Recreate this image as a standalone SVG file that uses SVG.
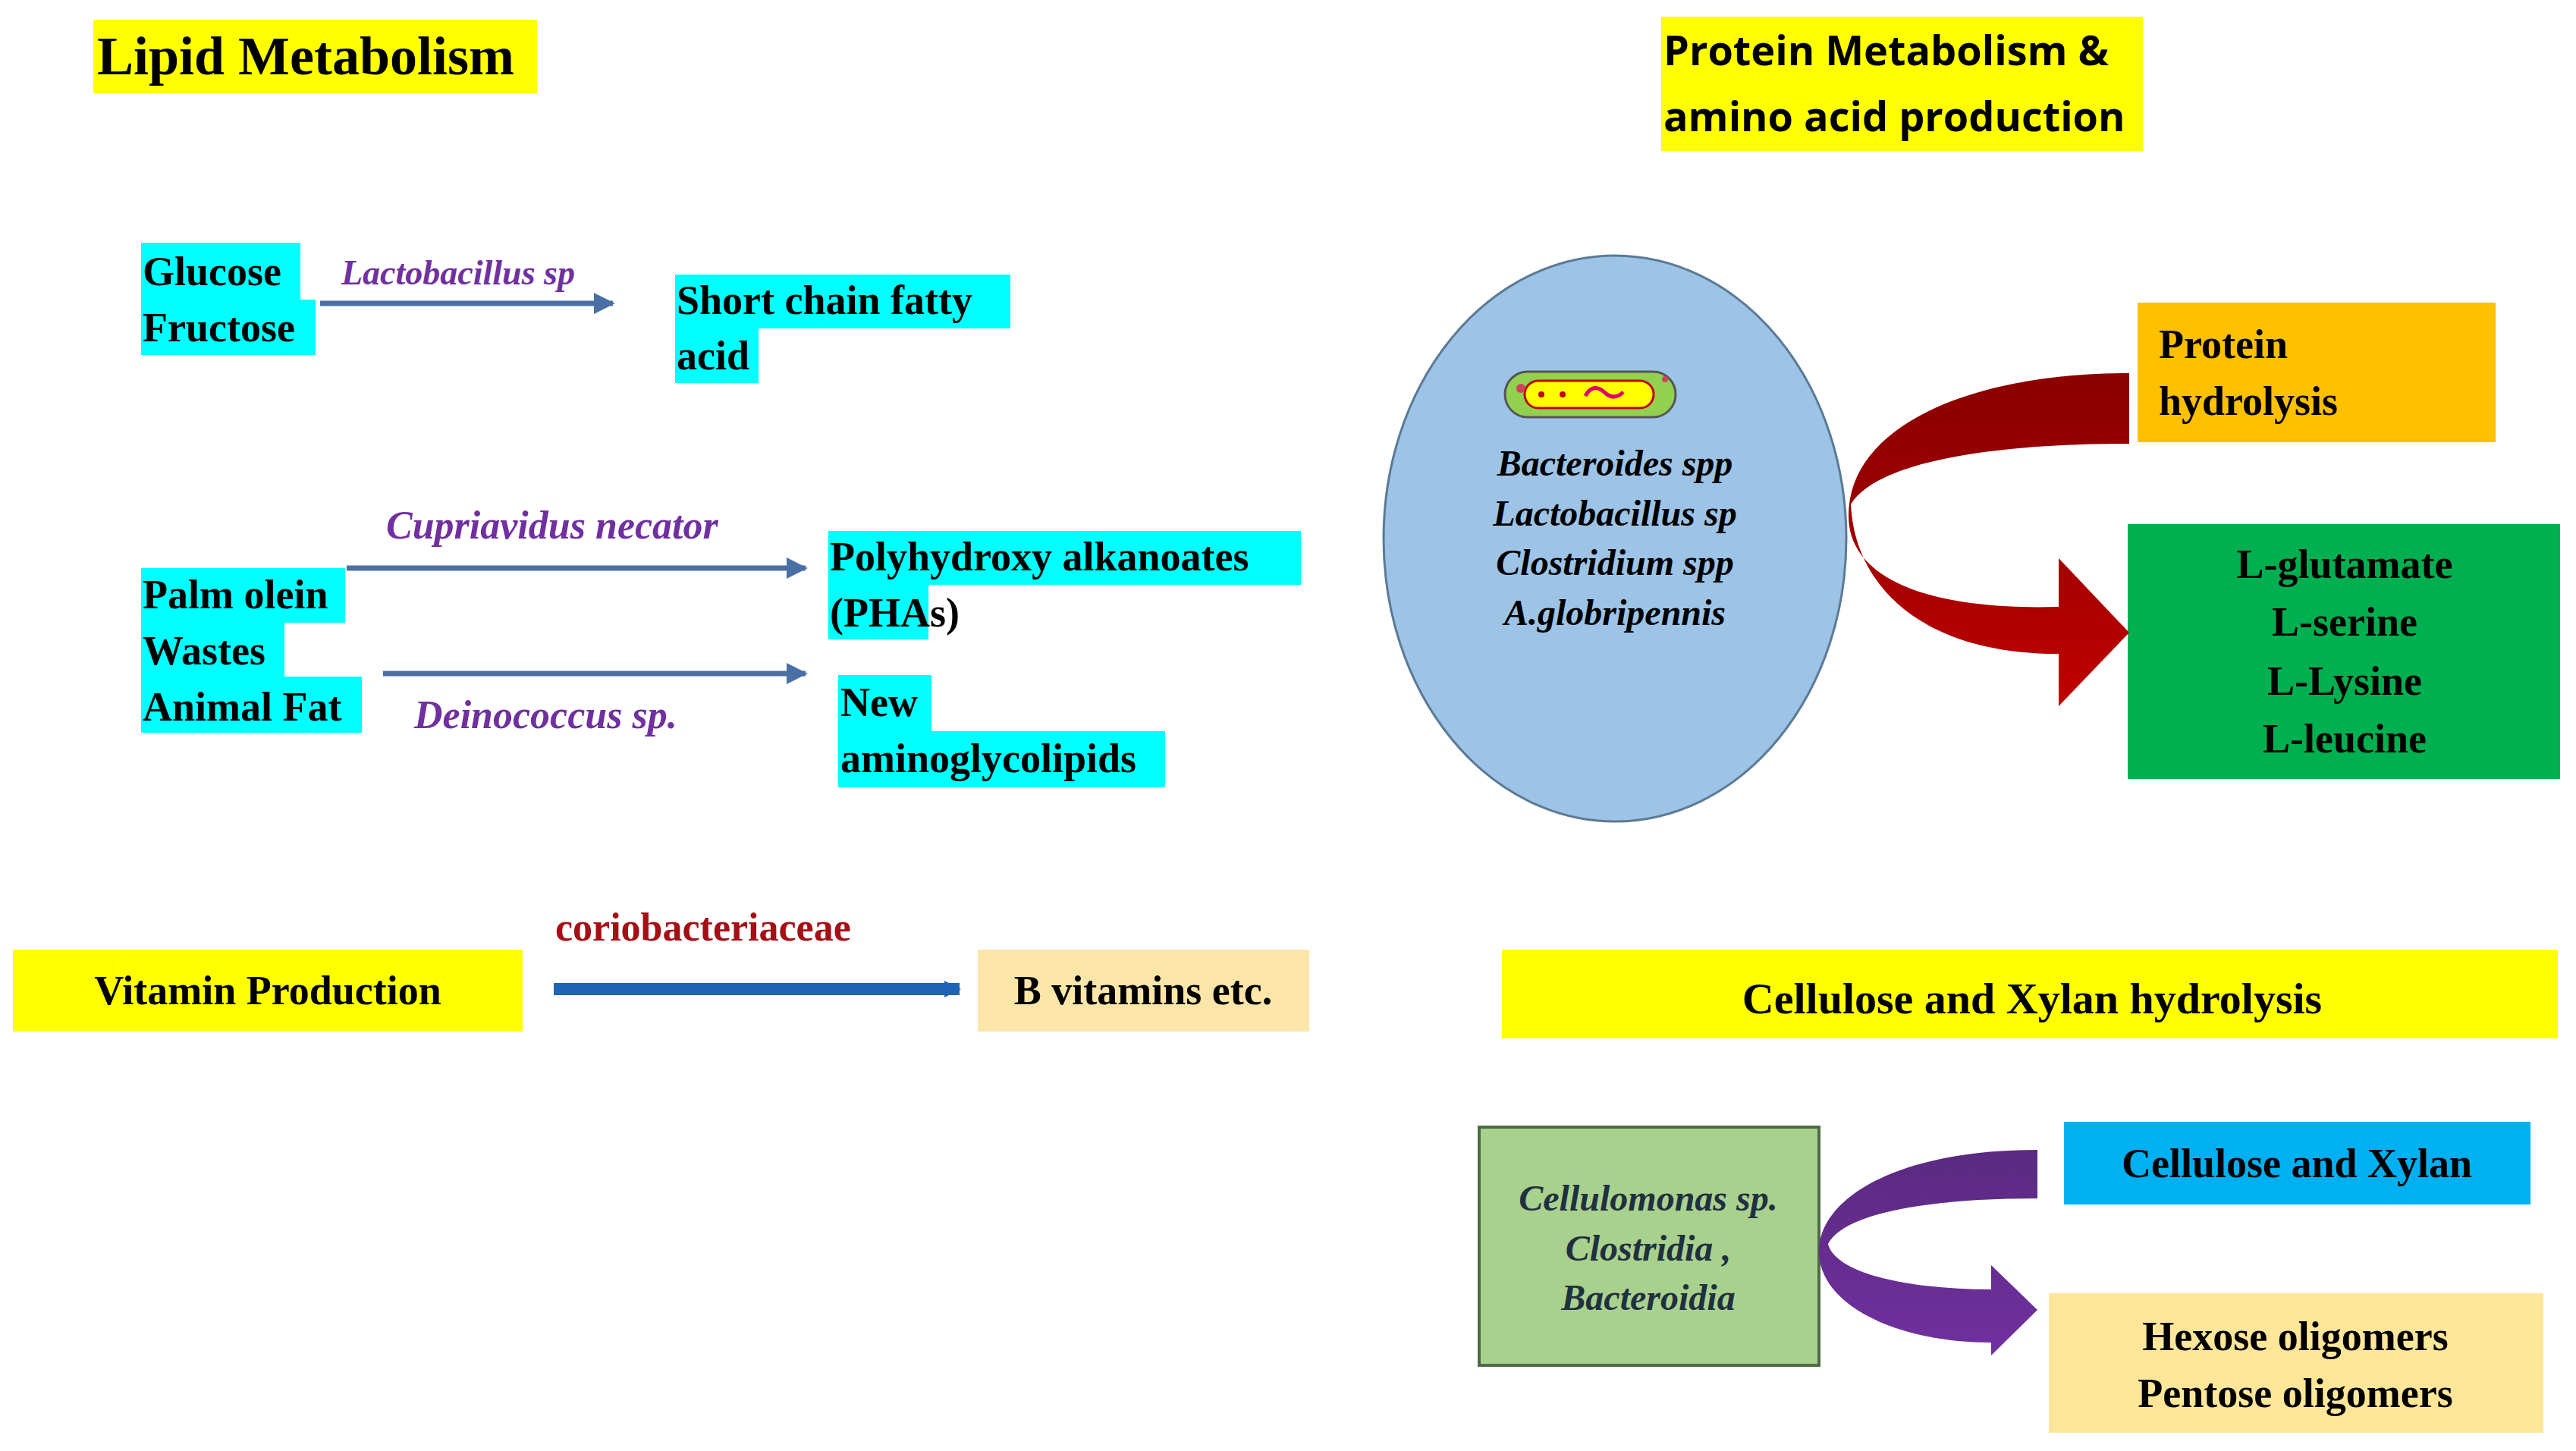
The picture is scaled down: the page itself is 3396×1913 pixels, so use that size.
<svg xmlns="http://www.w3.org/2000/svg" width="3396" height="1913" viewBox="0 0 3396 1913">
<style>
.b{font-family:"Liberation Serif",serif;font-weight:bold;fill:#000}
.i{font-family:"Liberation Serif",serif;font-style:italic;font-weight:bold}
.s{font-family:"Open Sans","Liberation Sans",sans-serif;font-weight:bold;fill:#000}
.cy{fill:#00ffff}
</style>
<defs>
<marker id="ah" viewBox="0 0 10 10" refX="9" refY="5" markerWidth="4" markerHeight="4" orient="auto" markerUnits="strokeWidth"><path d="M0,0 L10,5 L0,10 Z" fill="#4a6fa5"/></marker>
<marker id="ah2" viewBox="0 0 10 10" refX="9" refY="5" markerWidth="1.4" markerHeight="2.6" orient="auto" markerUnits="strokeWidth"><path d="M0,0 L10,5 L0,10 Z" fill="#1f64b4"/></marker>
<linearGradient id="rg" x1="0" y1="0" x2="0" y2="1"><stop offset="0" stop-color="#8b0000"/><stop offset="0.5" stop-color="#a00000"/><stop offset="1" stop-color="#c00000"/></linearGradient>
<linearGradient id="pg" x1="0" y1="0" x2="0" y2="1"><stop offset="0" stop-color="#5a2a80"/><stop offset="1" stop-color="#7030a0"/></linearGradient>
</defs>
<rect width="3396" height="1913" fill="#fff"/>
<g id="lipid-title"><rect x="123" y="26" width="585" height="97" fill="#ffff00"/><text class="b" x="128" y="98" font-size="72">Lipid Metabolism</text></g>
<g id="glucose"><rect class="cy" x="186" y="320" width="210" height="75"/><rect class="cy" x="186" y="395" width="230" height="73"/><text class="b" x="188" y="376" font-size="54">Glucose</text><text class="b" x="188" y="450" font-size="54">Fructose</text></g>
<g id="scfa"><rect class="cy" x="890" y="362" width="442" height="71"/><rect class="cy" x="890" y="433" width="110" height="72"/><text class="b" x="892" y="414" font-size="54">Short chain fatty</text><text class="b" x="892" y="487" font-size="54">acid</text></g>
<g id="palm"><rect class="cy" x="186" y="749" width="269" height="72"/><rect class="cy" x="186" y="821" width="189" height="71"/><rect class="cy" x="186" y="892" width="291" height="74"/><text class="b" x="188" y="802" font-size="54">Palm olein</text><text class="b" x="188" y="876" font-size="54">Wastes</text><text class="b" x="188" y="950" font-size="54">Animal Fat</text></g>
<g id="pha"><rect class="cy" x="1092" y="700" width="623" height="71"/><rect class="cy" x="1092" y="771" width="132" height="72"/><text class="b" x="1094" y="752" font-size="54">Polyhydroxy alkanoates</text><text class="b" x="1094" y="826" font-size="54">(PHAs)</text></g>
<g id="amino"><rect class="cy" x="1105" y="890" width="123" height="74"/><rect class="cy" x="1105" y="964" width="431" height="74"/><text class="b" x="1108" y="944" font-size="54">New</text><text class="b" x="1108" y="1018" font-size="54">aminoglycolipids</text></g>
<g id="vitamin"><rect x="17" y="1252" width="672" height="108" fill="#ffff00"/><text class="b" x="353" y="1324" font-size="54" text-anchor="middle">Vitamin Production</text></g>
<g id="bvit"><rect x="1289" y="1252" width="437" height="108" fill="#fbe5a8"/><text class="b" x="1507" y="1324" font-size="54" text-anchor="middle">B vitamins etc.</text></g>
<g id="protein-title"><rect x="2190" y="22" width="635" height="177" fill="#ffff00"/><text class="s" x="2193" y="86" font-size="54">Protein Metabolism  &amp;</text><text class="s" x="2193" y="173" font-size="54">amino acid production</text></g>
<g id="bacteria"><ellipse cx="2129" cy="710" rx="305" ry="373" fill="#9dc3e6" stroke="#5b7a95" stroke-width="3"/>
<rect x="1984" y="490" width="225" height="60" rx="30" fill="#92d050" stroke="#555" stroke-width="3"/><rect x="2010" y="502" width="170" height="36" rx="18" fill="#ffff00" stroke="#c00000" stroke-width="3"/>
<circle cx="2032" cy="520" r="4" fill="#c00000"/><circle cx="2060" cy="520" r="4" fill="#c00000"/><path d="M2090,522 q10,-18 25,-5 q12,12 25,0" stroke="#e0006a" stroke-width="5" fill="none"/><circle cx="2005" cy="512" r="6" fill="#d04060"/><circle cx="2195" cy="500" r="4" fill="#d04060"/>
<g class="i" font-size="48" fill="#000" text-anchor="middle"><text x="2129" y="627">Bacteroides spp</text><text x="2129" y="693">Lactobacillus sp</text><text x="2129" y="758">Clostridium spp</text><text x="2129" y="824">A.globripennis</text></g></g>
<g id="hydrolysis"><rect x="2818" y="399" width="472" height="184" fill="#ffc000"/><text class="b" x="2846" y="472" font-size="54">Protein</text><text class="b" x="2846" y="547" font-size="54">hydrolysis</text></g>
<g id="aminoacids"><rect x="2805" y="691" width="570" height="336" fill="#00b050"/><g class="b" font-size="54" text-anchor="middle"><text x="3091" y="762">L-glutamate</text><text x="3091" y="838">L-serine</text><text x="3091" y="916">L-Lysine</text><text x="3091" y="992">L-leucine</text></g></g>
<g id="cx-title"><rect x="1980" y="1252" width="1392" height="117" fill="#ffff00"/><text class="b" x="2679" y="1336" font-size="58" text-anchor="middle">Cellulose  and  Xylan  hydrolysis</text></g>
<g id="cellulomonas"><rect x="1950" y="1486" width="448" height="314" fill="#a9d18e" stroke="#4e6b45" stroke-width="4"/><g class="i" font-size="48" fill="#1f3040" text-anchor="middle"><text x="2173" y="1596">Cellulomonas sp.</text><text x="2173" y="1662">Clostridia ,</text><text x="2173" y="1727">Bacteroidia</text></g></g>
<g id="cx"><rect x="2721" y="1479" width="615" height="109" fill="#00b0f0"/><text class="b" x="3028" y="1552" font-size="54" text-anchor="middle">Cellulose and Xylan</text></g>
<g id="oligo"><rect x="2701" y="1705" width="652" height="184" fill="#ffe699"/><g class="b" font-size="54" text-anchor="middle"><text x="3026" y="1780">Hexose oligomers</text><text x="3026" y="1855">Pentose oligomers</text></g></g>
<g id="connectors">
<line x1="422" y1="400" x2="808" y2="400" stroke="#4a6fa5" stroke-width="7" marker-end="url(#ah)"/>
<text class="i" x="450" y="375" font-size="46" fill="#7030a0" font-weight="normal">Lactobacillus sp</text>
<line x1="457" y1="749" x2="1062" y2="749" stroke="#4a6fa5" stroke-width="7" marker-end="url(#ah)"/>
<text class="i" x="509" y="710" font-size="52" fill="#7030a0">Cupriavidus necator</text>
<line x1="505" y1="888" x2="1062" y2="888" stroke="#4a6fa5" stroke-width="7" marker-end="url(#ah)"/>
<text class="i" x="546" y="960" font-size="52" fill="#7030a0">Deinococcus sp.</text>
<line x1="730" y1="1304" x2="1265" y2="1304" stroke="#1f64b4" stroke-width="16" marker-end="url(#ah2)"/>
<text class="b" x="732" y="1240" font-size="52" style="fill:#a50f15">coriobacteriaceae</text>
<path d="M2807,492 C2600,492 2437,560 2437,680 C2437,770 2560,805 2714,800 L2714,736 L2807,834 L2714,931 L2714,862 C2530,862 2445,770 2440,665 C2470,615 2600,585 2807,585 Z" fill="url(#rg)"/>
<path d="M2686,1516 C2500,1516 2398,1580 2398,1650 C2398,1720 2500,1770 2625,1770 L2625,1787 L2686,1727 L2625,1668 L2625,1700 C2520,1700 2420,1680 2410,1640 C2430,1600 2540,1580 2686,1580 Z" fill="url(#pg)"/>
</g>
</svg>
